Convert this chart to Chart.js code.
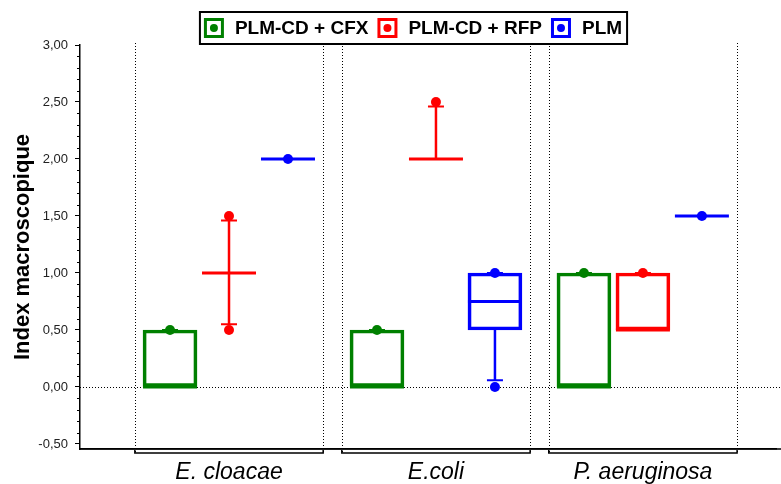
<!DOCTYPE html>
<html>
<head>
<meta charset="utf-8">
<script src="https://cdn.jsdelivr.net/npm/chart.js@4.4.1/dist/chart.umd.min.js"></script>
<style>
  html, body { margin: 0; padding: 0; background: #fff; }
  canvas { display: block; }
</style>
</head>
<body>
<canvas id="chart" width="781" height="484"></canvas>
<script>
// Box plot: Index macroscopique par souche
const FONT = '"Liberation Sans", Arial, sans-serif';

const categories = ['E. cloacae', 'E.coli', 'P. aeruginosa'];
const seriesNames = ['PLM-CD + CFX', 'PLM-CD + RFP', 'PLM'];
const seriesColors = ['#008000', '#ff0000', '#0000ff'];

// per series, one value per category
const q1 = [
  [0, 0, 0],
  [1.0, 2.0, 0.5],
  [2.0, 0.5, 1.5]
];
const q3 = [
  [0.5, 0.5, 1.0],
  [1.0, 2.0, 1.0],
  [2.0, 1.0, 1.5]
];
const medians = [
  [0, 0, 0],
  [1.0, 2.0, 0.5],
  [2.0, 0.75, 1.5]
];
const whiskerLow = [
  [0, 0, 0],
  [0.55, 2.0, 0.5],
  [2.0, 0.06, 1.5]
];
const whiskerHigh = [
  [0.5, 0.5, 1.0],
  [1.46, 2.46, 1.0],
  [2.0, 1.0, 1.5]
];
// the dots (min / max), null where none shows
const pointLow = [
  [null, null, null],
  [0.5, null, null],
  [null, 0, null]
];
const pointHigh = [
  [0.5, 0.5, 1.0],
  [1.5, 2.5, 1.0],
  [2.0, 1.0, 1.5]
];

const yTicks = [-0.5, 0, 0.5, 1.0, 1.5, 2.0, 2.5, 3.0];

const seriesOffset = [-0.285, 0, 0.285];
const groupHalf = 0.455;

const datasets = [];
seriesNames.forEach((name, s) => {
  datasets.push({
    type: 'bar',
    label: name,
    boxIndex: s,
    data: categories.map((c, i) => ({ x: i + 1 + seriesOffset[s], y: [q1[s][i], q3[s][i]] })),
    backgroundColor: 'rgba(255,255,255,0)',
    borderColor: seriesColors[s],
    borderWidth: 3,
    borderSkipped: false,
    barThickness: 54,
    grouped: false,
    order: 1
  });
});
seriesNames.forEach((name, s) => {
  const pts = [];
  categories.forEach((c, i) => {
    if (pointLow[s][i] !== null) pts.push({ x: i + 1 + seriesOffset[s], y: pointLow[s][i] });
    if (pointHigh[s][i] !== null) pts.push({ x: i + 1 + seriesOffset[s], y: pointHigh[s][i] });
  });
  datasets.push({
    type: 'scatter',
    label: name + ' pts',
    data: pts,
    pointRadius: 5,
    pointBackgroundColor: seriesColors[s],
    pointBorderColor: seriesColors[s],
    pointBorderWidth: 0,
    order: 0
  });
});

// median, whiskers and caps, drawn right after each box dataset
const whiskerPlugin = {
  id: 'whiskers',
  afterDatasetDraw(chart, args) {
    const ds = chart.data.datasets[args.index];
    if (ds.boxIndex === undefined) return;
    const s = ds.boxIndex;
    const y = chart.scales.y;
    const ctx = chart.ctx;
    ctx.save();
    ctx.strokeStyle = seriesColors[s];
    args.meta.data.forEach((bar, i) => {
      const cx = bar.x;
      const half = bar.width / 2;
      // median
      ctx.lineWidth = 3;
      ctx.beginPath();
      ctx.moveTo(cx - half, y.getPixelForValue(medians[s][i]));
      ctx.lineTo(cx + half, y.getPixelForValue(medians[s][i]));
      ctx.stroke();
      // whiskers
      ctx.lineWidth = 2.5;
      ctx.beginPath();
      if (whiskerHigh[s][i] > q3[s][i]) {
        ctx.moveTo(cx, y.getPixelForValue(q3[s][i]));
        ctx.lineTo(cx, y.getPixelForValue(whiskerHigh[s][i]));
      }
      if (whiskerLow[s][i] < q1[s][i]) {
        ctx.moveTo(cx, y.getPixelForValue(q1[s][i]));
        ctx.lineTo(cx, y.getPixelForValue(whiskerLow[s][i]));
      }
      ctx.stroke();
      // caps
      ctx.lineWidth = 2;
      ctx.beginPath();
      [whiskerLow[s][i], whiskerHigh[s][i]].forEach(v => {
        ctx.moveTo(cx - 8, y.getPixelForValue(v));
        ctx.lineTo(cx + 8, y.getPixelForValue(v));
      });
      ctx.stroke();
    });
    ctx.restore();
  }
};

// dotted reference lines, group brackets, minor ticks
const framePlugin = {
  id: 'frame',
  beforeDatasetsDraw(chart) {
    const { ctx, chartArea } = chart;
    const x = chart.scales.x, y = chart.scales.y;
    ctx.save();
    ctx.strokeStyle = '#000';
    ctx.lineWidth = 1;
    ctx.setLineDash([1, 2]);
    ctx.beginPath();
    const y0 = Math.round(y.getPixelForValue(0)) + 0.5;
    ctx.moveTo(chartArea.left, y0);
    ctx.lineTo(chart.width, y0);
    const bracketY = chartArea.bottom + 4;
    categories.forEach((c, i) => {
      [i + 1 - groupHalf, i + 1 + groupHalf].forEach(v => {
        const px = Math.round(x.getPixelForValue(v)) + 0.5;
        ctx.moveTo(px, chartArea.top - 2);
        ctx.lineTo(px, bracketY);
      });
    });
    ctx.stroke();
    ctx.setLineDash([]);
    ctx.lineWidth = 1.5;
    ctx.beginPath();
    categories.forEach((c, i) => {
      const l = x.getPixelForValue(i + 1 - groupHalf);
      const r = x.getPixelForValue(i + 1 + groupHalf);
      ctx.moveTo(l, bracketY - 3);
      ctx.lineTo(l, bracketY);
      ctx.lineTo(r, bracketY);
      ctx.lineTo(r, bracketY - 3);
    });
    // x axis line runs to the right edge
    ctx.moveTo(chartArea.left, chartArea.bottom);
    ctx.lineTo(chart.width, chartArea.bottom);
    ctx.stroke();
    // minor ticks every 0.1
    ctx.lineWidth = 1;
    ctx.beginPath();
    for (let k = -5; k <= 30; k++) {
      if (k % 5 === 0) continue;
      const py = Math.round(y.getPixelForValue(k / 10)) + 0.5;
      ctx.moveTo(chartArea.left - 3, py);
      ctx.lineTo(chartArea.left, py);
    }
    ctx.stroke();
    ctx.restore();
  },
  afterDraw(chart) {
    // legend with framed box
    const ctx = chart.ctx;
    ctx.save();
    ctx.font = 'bold 19px ' + FONT;
    const icon = 20, gapIcon = 11, gapItem = 9;
    const widths = seriesNames.map(n => ctx.measureText(n).width);
    const total = widths.reduce((a, w) => a + icon + gapIcon + w, 0) + gapItem * (seriesNames.length - 1);
    const midY = 28;
    let lx = 413 - total / 2;
    ctx.strokeStyle = '#000';
    ctx.lineWidth = 2;
    ctx.strokeRect(lx - 4, 12, total + 9, 32);
    ctx.textBaseline = 'middle';
    ctx.fillStyle = '#000';
    seriesNames.forEach((n, s) => {
      ctx.fillStyle = '#fff';
      ctx.fillRect(lx, midY - icon / 2, icon, icon);
      ctx.strokeStyle = seriesColors[s];
      ctx.lineWidth = 3;
      ctx.strokeRect(lx + 1.5, midY - icon / 2 + 1.5, icon - 3, icon - 3);
      ctx.fillStyle = seriesColors[s];
      ctx.beginPath();
      ctx.arc(lx + icon / 2, midY, 4, 0, Math.PI * 2);
      ctx.fill();
      ctx.fillStyle = '#000';
      ctx.fillText(n, lx + icon + gapIcon, midY + 1);
      lx += icon + gapIcon + widths[s] + gapItem;
    });
    ctx.restore();
  }
};

new Chart(document.getElementById('chart'), {
  type: 'bar',
  data: { datasets },
  options: {
    responsive: false,
    animation: false,
    layout: { padding: { top: 45, right: 0, left: 0, bottom: 0 } },
    plugins: {
      legend: { display: false },
      tooltip: { enabled: false }
    },
    scales: {
      x: {
        type: 'linear',
        offset: false,
        bounds: 'data',
        min: 0.28,
        max: 3.643,
        afterBuildTicks: (axis) => { axis.ticks = categories.map((c, i) => ({ value: i + 1 })); },
        afterFit: (axis) => { axis.height = 35; },
        ticks: {
          callback: (v) => categories[v - 1],
          font: { family: FONT, size: 23, style: 'italic' },
          color: '#000',
          padding: 10,
          maxRotation: 0,
          autoSkip: false
        },
        grid: { display: false, drawTicks: false },
        border: { display: true, color: '#000', width: 1.5 }
      },
      y: {
        min: -0.544,
        max: 3.0,
        afterBuildTicks: (axis) => { axis.ticks = yTicks.map(v => ({ value: v })); },
        afterFit: (axis) => { axis.width = 80; },
        ticks: {
          callback: (v) => v.toFixed(2).replace('.', ','),
          font: { family: FONT, size: 13 },
          color: '#222',
          padding: 7
        },
        grid: { drawOnChartArea: false, drawTicks: true, tickLength: 5, color: '#000' },
        border: { display: true, color: '#000', width: 1.5 },
        title: {
          display: true,
          text: 'Index macroscopique',
          font: { family: FONT, size: 22, weight: 'bold' },
          color: '#000',
          padding: { top: 10, bottom: 0 }
        }
      }
    }
  },
  plugins: [whiskerPlugin, framePlugin]
});
</script>
</body>
</html>
